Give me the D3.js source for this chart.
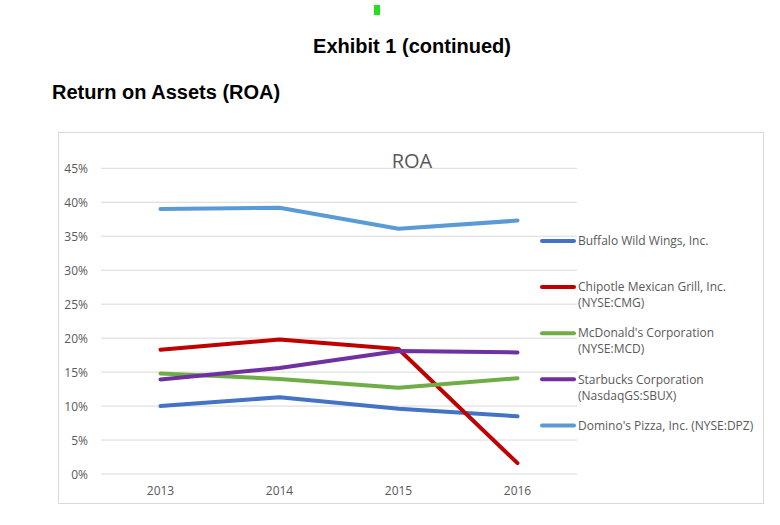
<!DOCTYPE html>
<html><head><meta charset="utf-8">
<script src="https://cdn.jsdelivr.net/npm/d3@7"></script>
<style>body{margin:0;background:#fff}svg{display:block}</style>
</head><body>
<svg id="c" width="780" height="525"></svg>
<script>
const years = ["2013","2014","2015","2016"];
const seriesNames = ["Buffalo Wild Wings, Inc.","Chipotle Mexican Grill, Inc. (NYSE:CMG)","McDonald's Corporation (NYSE:MCD)","Starbucks Corporation (NasdaqGS:SBUX)","Domino's Pizza, Inc. (NYSE:DPZ)"];
const legendLines = [["Buffalo Wild Wings, Inc."],["Chipotle Mexican Grill, Inc.","(NYSE:CMG)"],["McDonald's Corporation","(NYSE:MCD)"],["Starbucks Corporation","(NasdaqGS:SBUX)"],["Domino's Pizza, Inc. (NYSE:DPZ)"]];
const buffalo = [10.0, 11.3, 9.6, 8.5];
const chipotle = [18.3, 19.8, 18.4, 1.6];
const mcdonalds = [14.8, 14.0, 12.7, 14.1];
const starbucks = [13.9, 15.6, 18.1, 17.9];
const dominos = [39.0, 39.2, 36.1, 37.3];
const yTicks = [0,5,10,15,20,25,30,35,40,45];
const colors = ["#4472C4","#C00000","#70AD47","#7030A0","#5B9BD5"];
const allSeries = [buffalo, chipotle, mcdonalds, starbucks, dominos];

const svg = d3.select("#c");
const font = "'Open Sans', sans-serif";

svg.append("rect").attr("x",374).attr("y",5).attr("width",6).attr("height",10).attr("fill","#22E01E");

svg.append("text").attr("x",412).attr("y",53).attr("text-anchor","middle")
  .attr("font-family","Liberation Sans, Arial, sans-serif").attr("font-weight","bold").attr("font-size",20)
  .text("Exhibit 1 (continued)");
svg.append("text").attr("x",52).attr("y",99)
  .attr("font-family","Liberation Sans, Arial, sans-serif").attr("font-weight","bold").attr("font-size",20)
  .text("Return on Assets (ROA)");

svg.append("rect").attr("x",58.5).attr("y",132.5).attr("width",705).attr("height",371)
  .attr("fill","#fff").attr("stroke","#D9D9D9").attr("stroke-width",1);

const x = d3.scaleBand().domain(years).range([101,577]).padding(0);
const y = d3.scaleLinear().domain([0,45]).range([474,168.3]);

const yAxis = d3.axisLeft(y).tickValues(yTicks).tickFormat(d=>d+"%").tickSize(0);
const gy = svg.append("g").attr("transform","translate(88,0)").call(yAxis);
gy.select(".domain").remove();
gy.selectAll("text").attr("font-family",font).attr("font-size",12).attr("fill","#595959").attr("x",0).attr("dy","0.35em");

svg.append("g").selectAll("line").data(yTicks).join("line")
  .attr("x1",101).attr("x2",577).attr("y1",d=>y(d)).attr("y2",d=>y(d))
  .attr("stroke","#D9D9D9").attr("stroke-width",1);

const xAxis = d3.axisBottom(x).tickSize(0);
const gx = svg.append("g").attr("transform","translate(0,486)").call(xAxis);
gx.select(".domain").remove();
gx.selectAll("text").attr("font-family",font).attr("font-size",12).attr("fill","#595959").attr("y",0).attr("dy","0.71em");

svg.append("text").attr("x",412).attr("y",168).attr("text-anchor","middle")
  .attr("font-family",font).attr("font-size",20).attr("fill","#595959").text("ROA");

const line = d3.line().x((d,i)=>x(years[i])+x.bandwidth()/2).y(d=>y(d));
allSeries.forEach((s,i)=>{
  svg.append("path").datum(s).attr("d",line).attr("fill","none")
    .attr("stroke",colors[i]).attr("stroke-width",4).attr("stroke-linecap","round").attr("stroke-linejoin","round");
});

const lg = svg.append("g");
legendLines.forEach((lines,i)=>{
  const yy = 241 + i*46.1;
  lg.append("line").attr("x1",542).attr("x2",574).attr("y1",yy).attr("y2",yy)
    .attr("stroke",colors[i]).attr("stroke-width",4).attr("stroke-linecap","round");
  const t = lg.append("text").attr("x",578).attr("y",yy)
    .attr("font-family",font).attr("font-size",12).attr("fill","#595959");
  lines.forEach((l,j)=>{
    t.append("tspan").attr("x",578).attr("dy", j===0?"0.35em":"16px").text(l);
  });
});
</script>
</body></html>
